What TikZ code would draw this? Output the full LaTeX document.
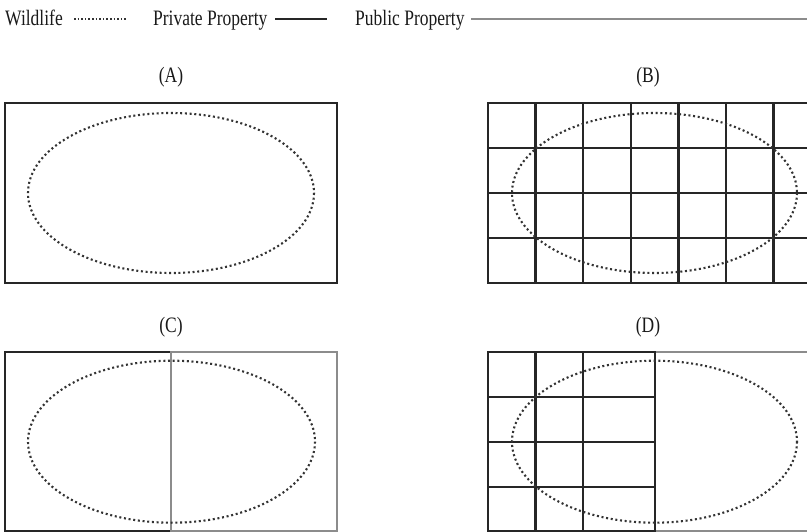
\documentclass[tikz,border=0pt]{standalone}
\usepackage{fontspec}
\setmainfont{Liberation Serif}
\newcommand{\cond}[1]{\scalebox{0.795}[1]{#1}}
\begin{document}
\begin{tikzpicture}[x=1pt,y=-1pt,
  priv/.style={line width=2.3pt, draw=black!85, line cap=rect},
  pub/.style={line width=2.3pt, draw=black!45, line cap=rect},
  wild/.style={line width=2.1pt, draw=black!80, dash pattern=on 2pt off 2.7pt},
  wildleg/.style={line width=1.6pt, draw=black!80, dash pattern=on 1.5pt off 2.1pt},
  lab/.style={font=\fontsize{22}{25}\selectfont, text=black!90, inner sep=0pt}]
\useasboundingbox (0,0) rectangle (807,532);
% legend
\node[lab, anchor=base west] (wl) at (5,26) {\cond{Wildlife}};
\node[lab, anchor=base west] (pl) at (153,26) {\cond{Private Property}};
\node[lab, anchor=base west] (ul) at (355,26) {\cond{Public Property}};
\coordinate (wa) at (74,19); \coordinate (wb) at (127,19);
\coordinate (pa) at (275,19); \coordinate (pb) at (327,19);
\coordinate (ua) at (471,19); \coordinate (ub) at (808,19);
\draw[wildleg] (wa) -- (wb);
\draw[priv, line cap=butt] (pa) -- (pb);
\draw[pub, line cap=butt] (ua) -- (ub);
% panel labels
\node[lab] (la) at (171,77) {\cond{(A)}};
\node[lab] (lb) at (648,77) {\cond{(B)}};
\node[lab] (lc) at (171,327) {\cond{(C)}};
\node[lab] (ld) at (648,327) {\cond{(D)}};
% panel A
\draw[priv] (5,103) rectangle (337,283);
\draw[wild] (171,193) ellipse [x radius=143, y radius=80];
% panel B
\foreach \y in {103,148,193,238,283} \draw[priv, line cap=butt] (487,\y) -- (808,\y);
\foreach \x in {488,535.6,583.2,630.8,678.4,726,773.6} \draw[priv] (\x,103) -- (\x,283);
\draw[wild] (654.5,193) ellipse [x radius=142.5, y radius=80];
% panel C
\draw[pub] (171,352) -- (337,352) -- (337,531) -- (171,531);
\draw[priv] (171,352) -- (5,352) -- (5,531) -- (171,531);
\draw[pub] (171,352) -- (171,531);
\draw[wild] (171.5,441.7) ellipse [x radius=143.5, y radius=81];
% panel D
\draw[pub, line cap=butt] (655,352) -- (808,352);
\draw[pub, line cap=butt] (655,531.5) -- (808,531.5);
\foreach \y in {352,396.7,441.7,486.7,531.5} \draw[priv] (488,\y) -- (655,\y);
\foreach \x in {488,535.5,583.3,655} \draw[priv] (\x,352) -- (\x,531.5);
\draw[wild] (654.5,441.7) ellipse [x radius=142.5, y radius=81];
\end{tikzpicture}
\end{document}
